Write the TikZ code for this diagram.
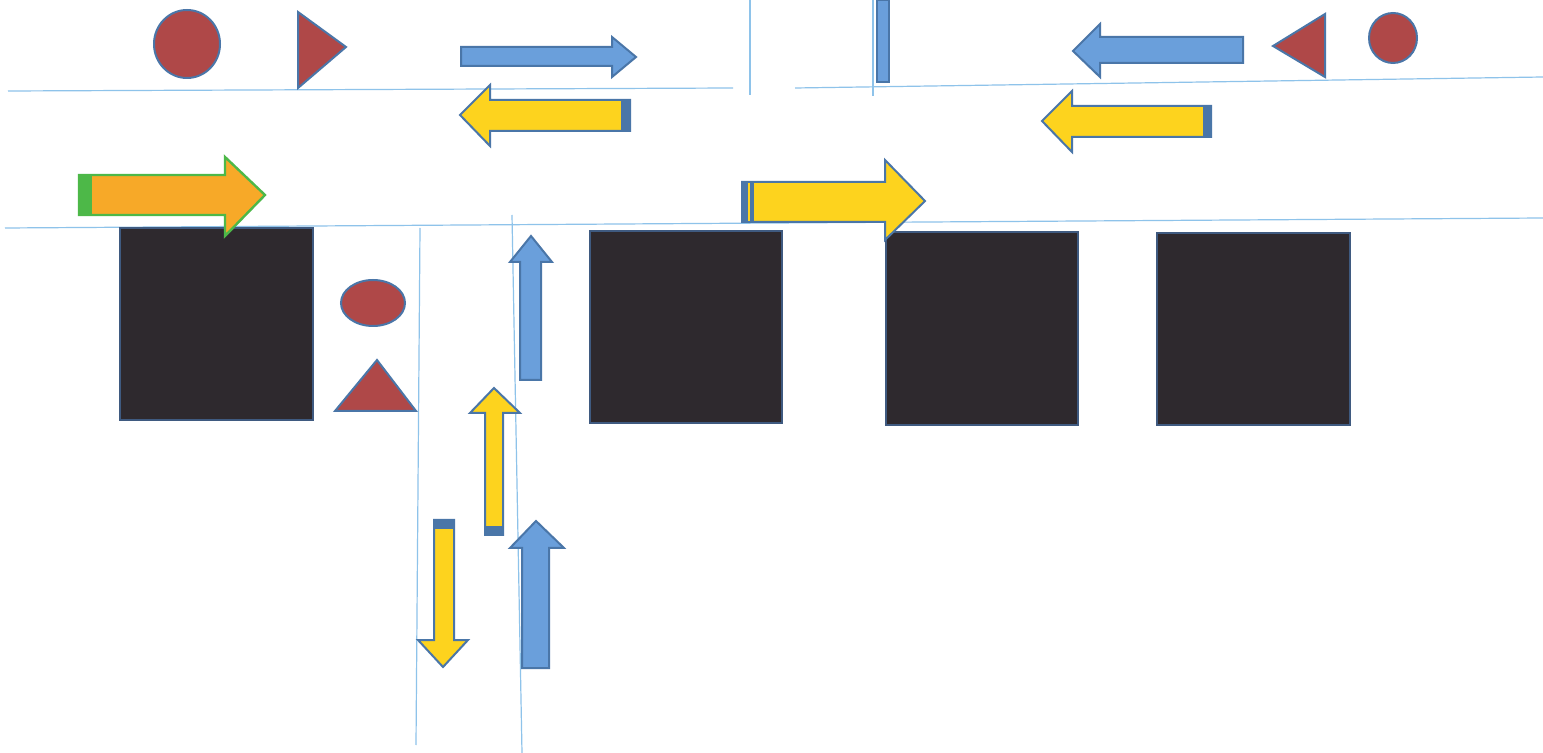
\documentclass[tikz,border=0pt]{standalone}
\definecolor{roadblue}{HTML}{8EC3EA}
\definecolor{arrblue}{HTML}{6A9FDB}
\definecolor{arredge}{HTML}{4A76A8}
\definecolor{arryel}{HTML}{FDD31E}
\definecolor{arrorange}{HTML}{F7A928}
\definecolor{arrgreen}{HTML}{4DB848}
\definecolor{shapered}{HTML}{AF4848}
\definecolor{blockdark}{HTML}{2E292E}
\definecolor{blockedge}{HTML}{3F5A80}
\tikzset{
  road/.style={draw=roadblue, line width=0.6pt},
  bluearr/.style={fill=arrblue, draw=arredge, line width=1pt, line join=miter},
  yelarr/.style={fill=arryel, draw=arredge, line width=1pt, line join=miter},
  orgarr/.style={fill=arrorange, draw=arrgreen, line width=1.2pt, line join=miter},
  redshape/.style={fill=shapered, draw=arredge, line width=1pt},
  block/.style={fill=blockdark, draw=blockedge, line width=0.8pt},
  stripe/.style={fill=arredge, draw=none}
}
\begin{document}
\begin{tikzpicture}[x=0.5pt,y=-0.5pt]
\useasboundingbox[fill=white] (0,0) rectangle (1543,753);
% road lines
\draw[road] (8,91) -- (733,88);
\draw[road] (795,88) -- (1543,77);
\draw[road] (750,0) -- (750,95);
\draw[road] (873,0) -- (873,96);
\draw[road] (5,228) -- (1543,218);
\draw[road] (420,228) -- (416,745);
\draw[road] (512,215) -- (522,753);
% blocks
\draw[block] (120,228) rectangle (313,420);
\draw[block] (590,231) rectangle (782,423);
\draw[block] (886,232) rectangle (1078,425);
\draw[block] (1157,233) rectangle (1350,425);
% red shapes
\draw[redshape] (187,44) ellipse [x radius=33, y radius=34];
\draw[redshape] (298,12) -- (346,47) -- (298,88) -- cycle;
\draw[redshape] (1325,14) -- (1325,77) -- (1273,46) -- cycle;
\draw[redshape] (1393,38) ellipse [x radius=24, y radius=25];
\draw[redshape] (373,303) ellipse [x radius=32, y radius=23];
\draw[redshape] (335,411) -- (416,411) -- (377,360) -- cycle;
% blue vertical bar at top
\draw[bluearr] (877,0) rectangle (889,82);
% top-left blue arrow right
\draw[bluearr] (461,47) -- (612,47) -- (612,37) -- (636,57) -- (612,77) -- (612,66) -- (461,66) -- cycle;
% yellow arrow left (left side)
\draw[yelarr] (630,100) -- (490,100) -- (490,85) -- (460,115) -- (490,146) -- (490,131) -- (630,131) -- cycle;
\fill[stripe] (621,100.5) rectangle (629.5,130.5);
% orange arrow right
\draw[orgarr] (79,175) -- (225,175) -- (225,157) -- (265,195) -- (225,236) -- (225,215) -- (79,215) -- cycle;
\fill[arrgreen] (79.5,175.5) rectangle (92,214.5);
% big yellow arrow right
\draw[yelarr] (742,182) -- (885,182) -- (885,160) -- (925,201) -- (885,240) -- (885,222) -- (742,222) -- cycle;
\fill[stripe] (742.5,182.5) rectangle (754,221.5);
\draw[arryel, line width=0.6pt] (749,183) -- (749,221);
% top-right blue arrow left
\draw[bluearr] (1243,37) -- (1100,37) -- (1100,24) -- (1073,51) -- (1100,77) -- (1100,63) -- (1243,63) -- cycle;
% yellow arrow left (right side)
\draw[yelarr] (1211,106) -- (1072,106) -- (1072,91) -- (1042,121) -- (1072,152) -- (1072,137) -- (1211,137) -- cycle;
\fill[stripe] (1203,106.5) rectangle (1210.5,136.5);
% vertical blue arrow up (top)
\draw[bluearr] (520,380) -- (520,262) -- (510,262) -- (531,236) -- (552,262) -- (541,262) -- (541,380) -- cycle;
% yellow arrow up
\draw[yelarr] (485,535) -- (485,413) -- (470,413) -- (494,388) -- (520,413) -- (503,413) -- (503,535) -- cycle;
\fill[stripe] (485.5,526) rectangle (502.5,534.5);
% yellow arrow down
\draw[yelarr] (434,520) -- (434,640) -- (418,640) -- (443,667) -- (468,640) -- (454,640) -- (454,520) -- cycle;
\fill[stripe] (434.5,520.5) rectangle (453.5,529);
% blue arrow up (bottom)
\draw[bluearr] (522,668) -- (522,548) -- (510,548) -- (536,521) -- (564,548) -- (549,548) -- (549,668) -- cycle;
\end{tikzpicture}
\end{document}
